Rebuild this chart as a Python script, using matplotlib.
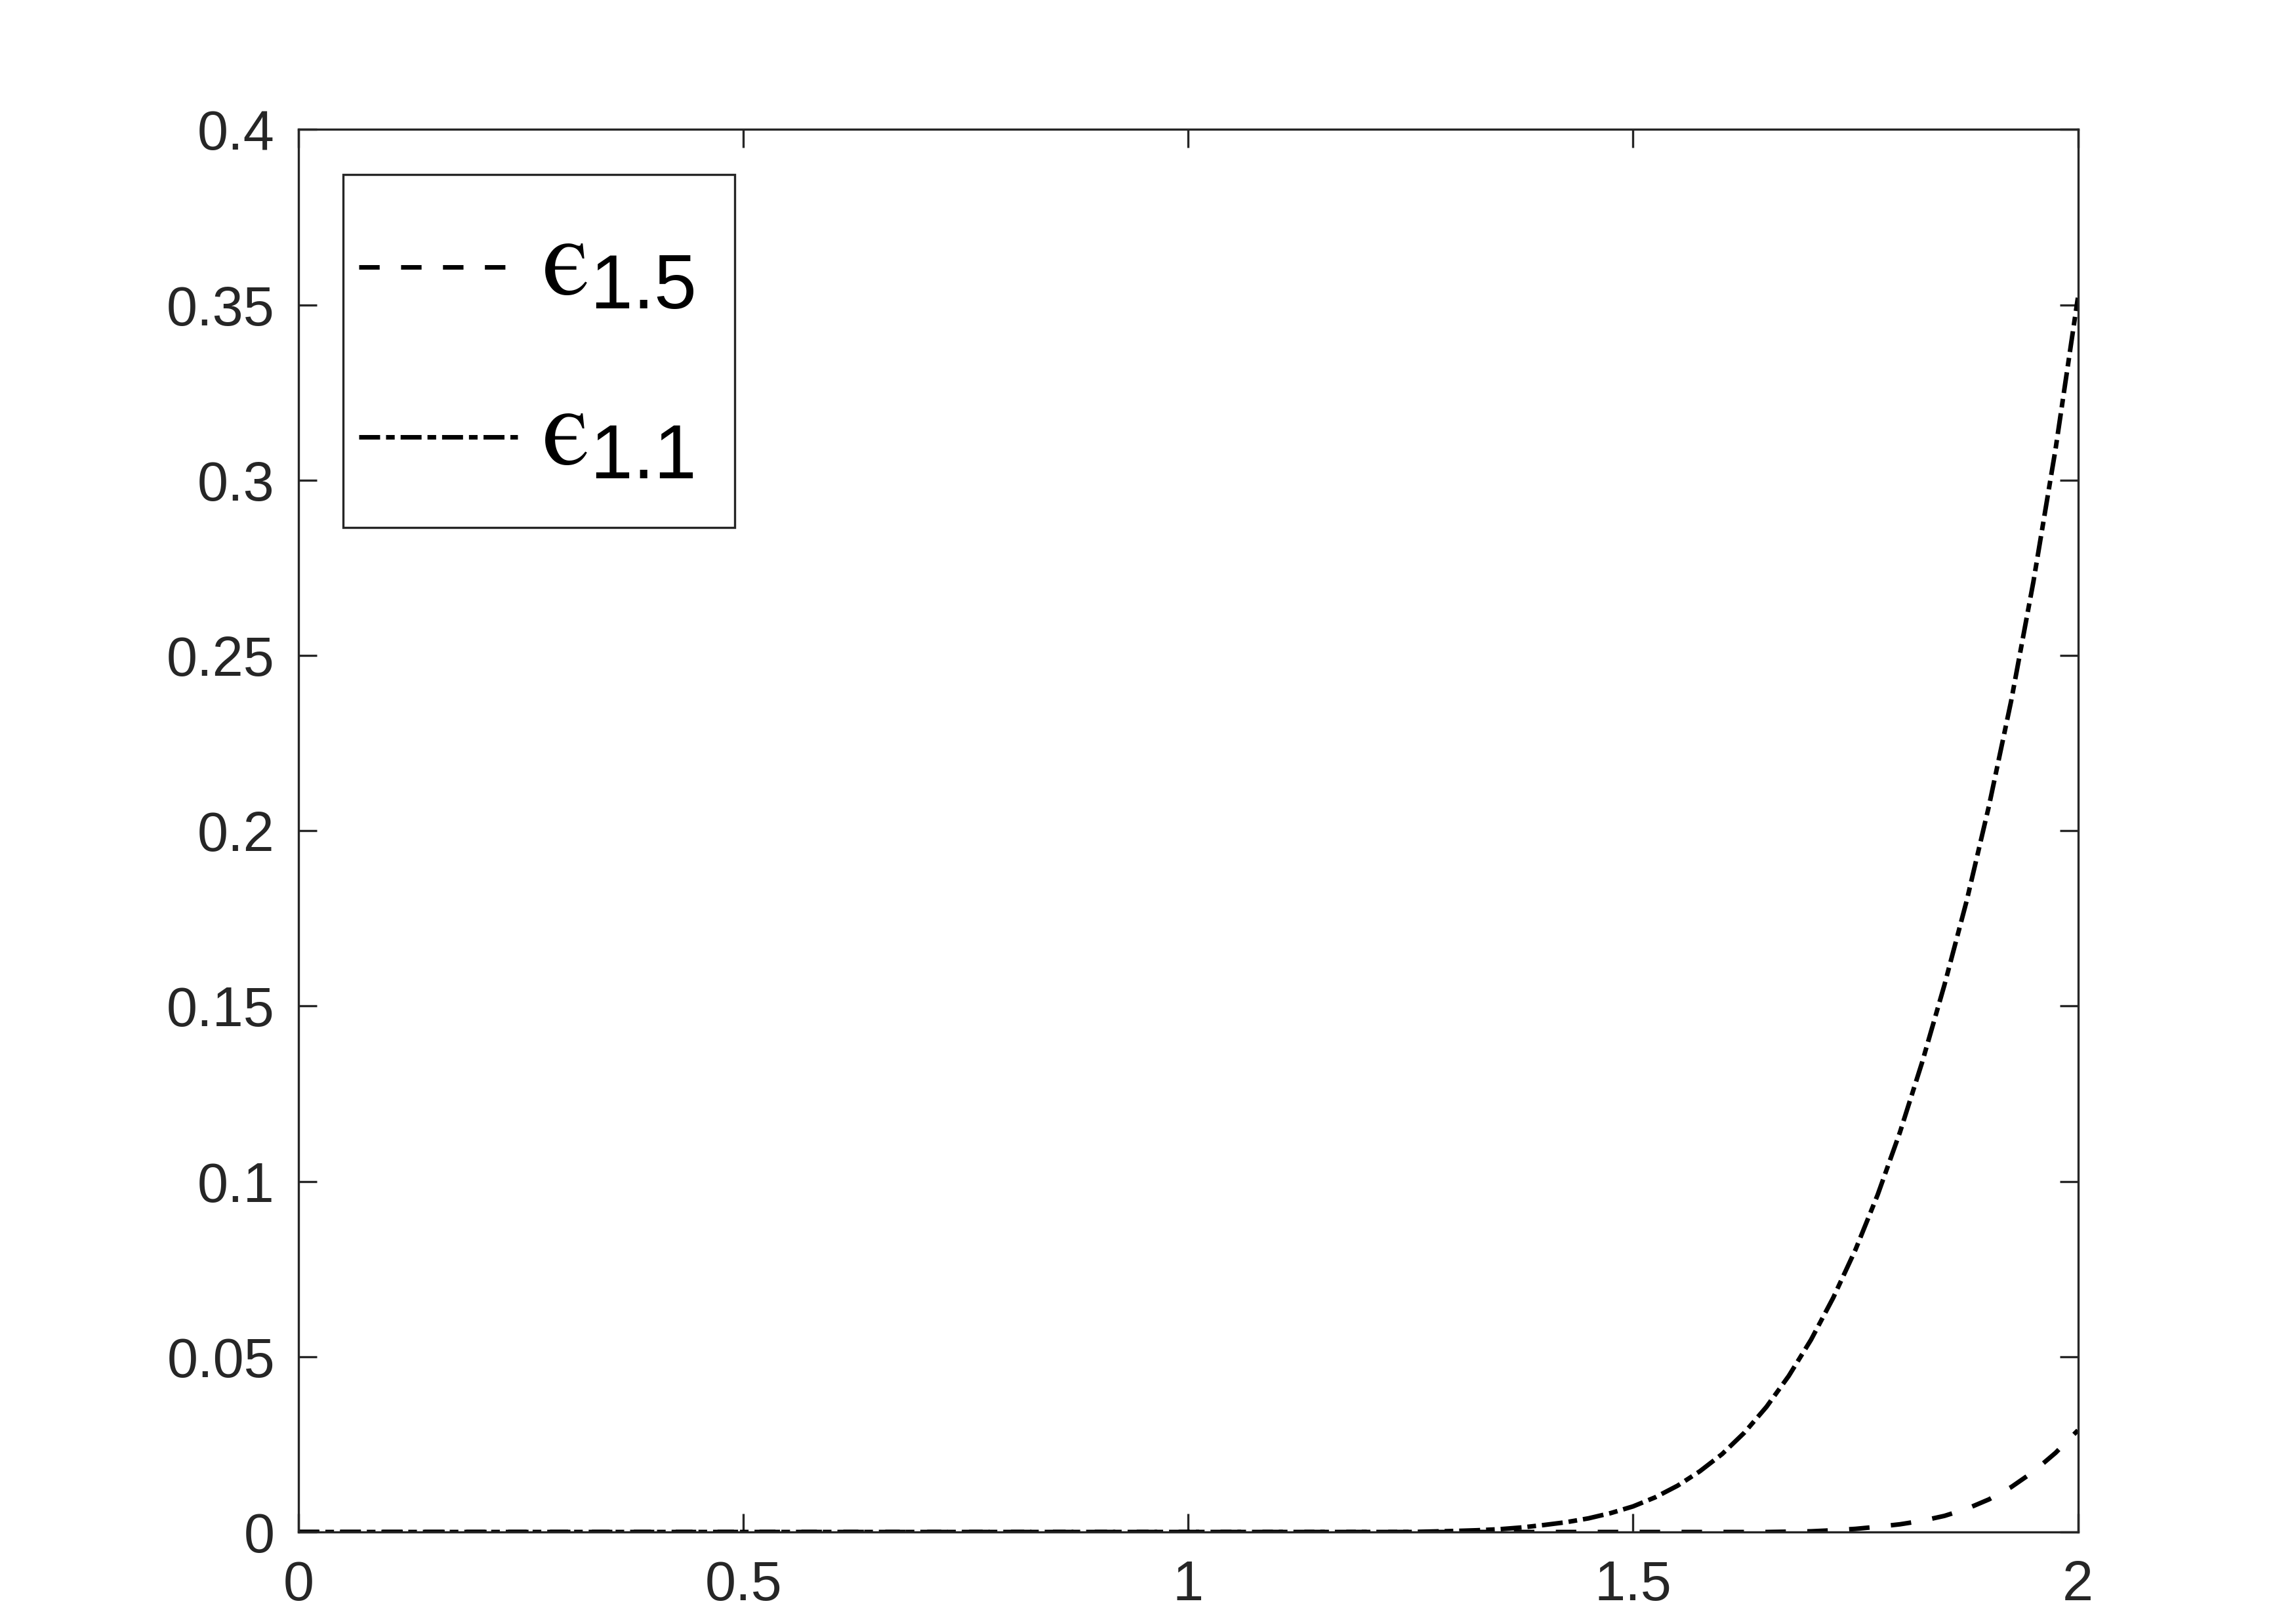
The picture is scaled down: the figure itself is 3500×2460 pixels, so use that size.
"""Error curves eps_1.1 and eps_1.5 on [0, 2], MATLAB-style axes."""

import matplotlib
matplotlib.use("Agg")
import matplotlib.pyplot as plt
from matplotlib.legend_handler import HandlerLine2D
from matplotlib.ticker import FormatStrFormatter, MultipleLocator

plt.rcParams.update({
    "font.family": ["Liberation Sans", "DejaVu Sans"],
    "mathtext.fontset": "custom",
    "mathtext.rm": "Liberation Sans",
    "mathtext.sf": "Liberation Sans",
    "mathtext.it": "STIXGeneral",
    "axes.linewidth": 1.2,
})

AX_COLOR = "#262626"

# eps_1.1 (dash-dot curve)
x_eps11 = [0.0, 1.0, 1.25, 1.30, 1.325, 1.35, 1.375, 1.40, 1.425, 1.45, 1.475, 1.50,
           1.525, 1.55, 1.575, 1.60, 1.625, 1.65, 1.675, 1.70, 1.725, 1.75, 1.775,
           1.80, 1.825, 1.85, 1.875, 1.90, 1.925, 1.95, 1.975, 2.0]
y_eps11 = [0.0, 0.0, 0.0, 0.0003, 0.0005, 0.0008, 0.0013, 0.002, 0.0028, 0.0039, 0.0054, 0.0073,
           0.0099, 0.0132, 0.0173, 0.0222, 0.0283, 0.0357, 0.0445, 0.0548, 0.0668, 0.0805, 0.0962,
           0.114, 0.134, 0.156, 0.180, 0.207, 0.237, 0.271, 0.309, 0.352]

# eps_1.5 (dashed curve)
x_eps15 = [0.0, 1.5, 1.65, 1.70, 1.725, 1.75, 1.775, 1.80, 1.825, 1.85, 1.875, 1.90,
           1.925, 1.95, 1.975, 2.0]
y_eps15 = [0.0, 0.0, 0.0, 0.0002, 0.0005, 0.0009, 0.0015, 0.0022, 0.0032, 0.0046, 0.0066, 0.0093,
           0.0128, 0.0172, 0.0226, 0.029]

# lunate epsilon, as in the original legend
labels = ["$\u03f5_{\\mathrm{1.5}}$", "$\u03f5_{\\mathrm{1.1}}$"]


def main():
    fig = plt.figure(figsize=(17.5, 12.3), dpi=200)
    ax = fig.add_axes([0.130, 0.0508, 0.775, 0.869])

    lw = 2.5
    l15, = ax.plot(x_eps15, y_eps15, color="black", lw=lw, dashes=(4.5, 4.7), label=labels[0])
    l11, = ax.plot(x_eps11, y_eps11, color="black", lw=lw, dashes=(4.6, 1.3, 1.9, 1.3),
                   label=labels[1])

    ax.set_xlim(0, 2)
    ax.set_ylim(0, 0.4)
    ax.xaxis.set_major_locator(MultipleLocator(0.5))
    ax.yaxis.set_major_locator(MultipleLocator(0.05))
    ax.xaxis.set_major_formatter(FormatStrFormatter("%g"))
    ax.yaxis.set_major_formatter(FormatStrFormatter("%g"))

    for s in ax.spines.values():
        s.set_color(AX_COLOR)
    ax.tick_params(direction="in", length=10, width=1.2, color=AX_COLOR,
                   labelcolor=AX_COLOR, labelsize=30.5, top=True, right=True)
    ax.tick_params(axis="x", pad=15)
    ax.tick_params(axis="y", pad=13)

    # handles start closer to the frame than the text padding would allow,
    # and sit low against the epsilon like the MATLAB legend
    hmap = {l15: HandlerLine2D(xpad=-0.225), l11: HandlerLine2D(xpad=-0.225)}
    leg = ax.legend(loc="upper left", bbox_to_anchor=(0.025, 0.968), borderaxespad=0,
                    fontsize=60, frameon=True, fancybox=False, framealpha=1,
                    edgecolor=AX_COLOR, handlelength=1.23, handleheight=0.03,
                    handletextpad=0.22, borderpad=0.37, labelspacing=0.62,
                    handler_map=hmap)
    leg.get_frame().set_linewidth(1.2)

    fig.savefig("out.png", dpi=200, facecolor="white")
    plt.close(fig)


if __name__ == "__main__":
    main()
